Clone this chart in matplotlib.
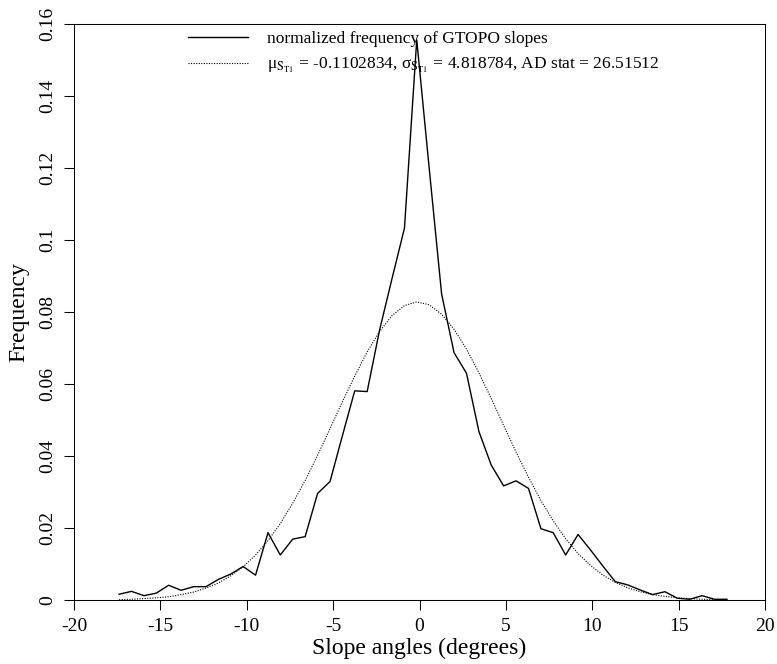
import matplotlib.pyplot as plt

plt.rcParams['font.family'] = ['Liberation Serif', 'DejaVu Serif']
plt.rcParams['mathtext.fontset'] = 'stix'

# bin centres of the slope histogram (degrees)
slope_x = [-17.39, -16.67, -15.95, -15.24, -14.52, -13.80, -13.08, -12.36, -11.65, -10.93,
           -10.21, -9.49, -8.77, -8.06, -7.34, -6.62, -5.90, -5.18, -4.47, -3.75,
           -3.03, -2.31, -1.59, -0.87, -0.16, 0.56, 1.28, 2.00, 2.72, 3.44,
           4.15, 4.87, 5.59, 6.31, 7.03, 7.74, 8.46, 9.18, 9.90, 10.62,
           11.33, 12.05, 12.77, 13.49, 14.21, 14.92, 15.64, 16.36, 17.08, 17.80]

# normalized frequency of GTOPO slopes
freq = [0.0016, 0.0024, 0.0012, 0.0019, 0.0041, 0.0027, 0.0037, 0.0037, 0.0057, 0.0072,
        0.0093, 0.0069, 0.0187, 0.0125, 0.0169, 0.0176, 0.0296, 0.0329, 0.0455, 0.0581,
        0.0579, 0.0750, 0.0893, 0.1033, 0.1556, 0.1200, 0.0850, 0.0687, 0.0630, 0.0468,
        0.0375, 0.0317, 0.0331, 0.0310, 0.0198, 0.0187, 0.0125, 0.0182, 0.0139, 0.0094,
        0.0051, 0.0042, 0.0028, 0.0015, 0.0023, 0.0005, 0.0002, 0.0012, 0.0002, 0.0002]

# fitted normal curve (dotted)
fitted = [0.0001, 0.0002, 0.0004, 0.0006, 0.0009, 0.0015, 0.0022, 0.0033, 0.0047, 0.0067,
          0.0092, 0.0125, 0.0165, 0.0212, 0.0269, 0.0332, 0.0402, 0.0476, 0.0550, 0.0622,
          0.0689, 0.0746, 0.0790, 0.0818, 0.0828, 0.0820, 0.0794, 0.0752, 0.0697, 0.0631,
          0.0560, 0.0485, 0.0411, 0.0341, 0.0276, 0.0220, 0.0170, 0.0129, 0.0096, 0.0069,
          0.0049, 0.0034, 0.0023, 0.0015, 0.0010, 0.0006, 0.0004, 0.0002, 0.0001, 0.0001]

x_ticks = [-20, -15, -10, -5, 0, 5, 10, 15, 20]
y_ticks = [0, 0.02, 0.04, 0.06, 0.08, 0.1, 0.12, 0.14, 0.16]
y_labels = ['0', '0.02', '0.04', '0.06', '0.08', '0.1', '0.12', '0.14', '0.16']

fig = plt.figure(figsize=(7.77, 6.64), dpi=100)
ax = fig.add_axes([74 / 777, 1 - 600 / 664, (765 - 74) / 777, (600 - 24) / 664])

ax.plot(slope_x, freq, color='black', lw=1.0, label='normalized frequency of GTOPO slopes')
ax.plot(slope_x, fitted, color='black', lw=0.8, linestyle=(0, (1, 1.3)),
        label='μ$_{\\mathrm{S}_{\\mathrm{T1}}}$ = -0.1102834, σ$_{\\mathrm{S}_{\\mathrm{T1}}}$'
              ' = 4.818784, AD stat = 26.51512')

ax.set_xlim(-20, 20)
ax.set_ylim(0, 0.16)
ax.set_xticks(x_ticks)
ax.set_xticklabels([str(t) for t in x_ticks])
ax.set_yticks(y_ticks)
ax.set_yticklabels(y_labels, rotation=90, va='center')
ax.tick_params(direction='out', length=7, width=0.75, labelsize=14, pad=6)
for s in ax.spines.values():
    s.set_linewidth(0.75)

ax.set_xlabel('Slope angles (degrees)', fontsize=17, labelpad=2)
ax.set_ylabel('Frequency', fontsize=17, labelpad=7)

ax.legend(loc='upper left', bbox_to_anchor=(0.165, 0.988), frameon=False, fontsize=12.5,
          handlelength=3.45, handletextpad=1.1, labelspacing=0.5,
          borderpad=0, borderaxespad=0)

fig.savefig('out.png', dpi=100)
